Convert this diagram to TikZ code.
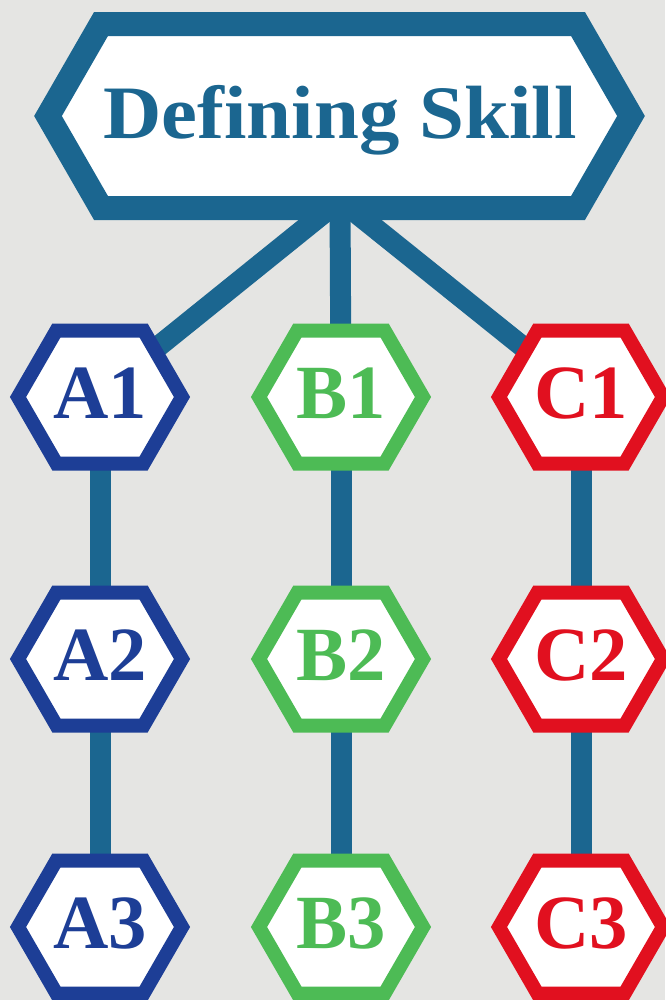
\documentclass[tikz,border=0pt]{standalone}
\usepackage{fontspec}
\setmainfont{Liberation Serif}

\definecolor{paper}{HTML}{E5E5E3}
\definecolor{skillteal}{HTML}{1B6690}
\definecolor{colA}{HTML}{1D3E96}
\definecolor{colB}{HTML}{4DBB55}
\definecolor{colC}{HTML}{E1101F}

\pgfdeclarelayer{paperlayer}
\pgfdeclarelayer{edges}
\pgfsetlayers{paperlayer,edges,main}

\tikzset{
  % flat-topped hexagon outline, centre line sizes in px
  pics/smallhex/.style={code={
    \draw[line width=10.5pt, line join=miter, fill=white, draw=#1]
      (-82,0) -- (-43.6,-66.5) -- (43.6,-66.5) -- (82,0)
      -- (43.6,66.5) -- (-43.6,66.5) -- cycle;}},
  lbl/.style={inner sep=0pt, font=\fontsize{57.5}{57.5}\selectfont\bfseries},
  title/.style={inner sep=0pt, anchor=base, text=skillteal,
    font=\fontsize{56.6}{56.6}\selectfont\bfseries},
  conn/.style={draw=skillteal, line width=15.75pt}
}

\begin{document}
\begin{tikzpicture}[x=0.75pt,y=-0.75pt]
  \useasboundingbox (0,0) rectangle (665,1000);
  \begin{pgfonlayer}{paperlayer}
    \fill[paper] (0,0) rectangle (665,1000);
  \end{pgfonlayer}

  % title hexagon
  \draw[line width=18pt, line join=miter, fill=white, draw=skillteal]
    (48,116) -- (101,24) -- (578,24) -- (631,116)
    -- (578,208) -- (101,208) -- cycle;
  \node[title] (skill) at (340,138) {\scalebox{1.07}[1]{Defining Skill}};
  \coordinate (root) at (340,200);

  % skill hexagons
  \foreach \col/\x in {A/100,B/341,C/581}{
    \foreach \row/\y in {1/397,2/659,3/927}{
      \pic at (\x,\y) {smallhex=col\col};
      \node[lbl, text=col\col] (\col\row) at (\x,\y-3.5) {\col\row};
    }
  }

  % connectors
  \begin{pgfonlayer}{edges}
    \draw[conn] (root) -- (A1);
    \draw[conn] (root) -- (B1);
    \draw[conn] (root) -- (C1);
    \foreach \col in {A,B,C}{
      \draw[conn] (\col1) -- (\col2);
      \draw[conn] (\col2) -- (\col3);
    }
  \end{pgfonlayer}
\end{tikzpicture}
\end{document}
